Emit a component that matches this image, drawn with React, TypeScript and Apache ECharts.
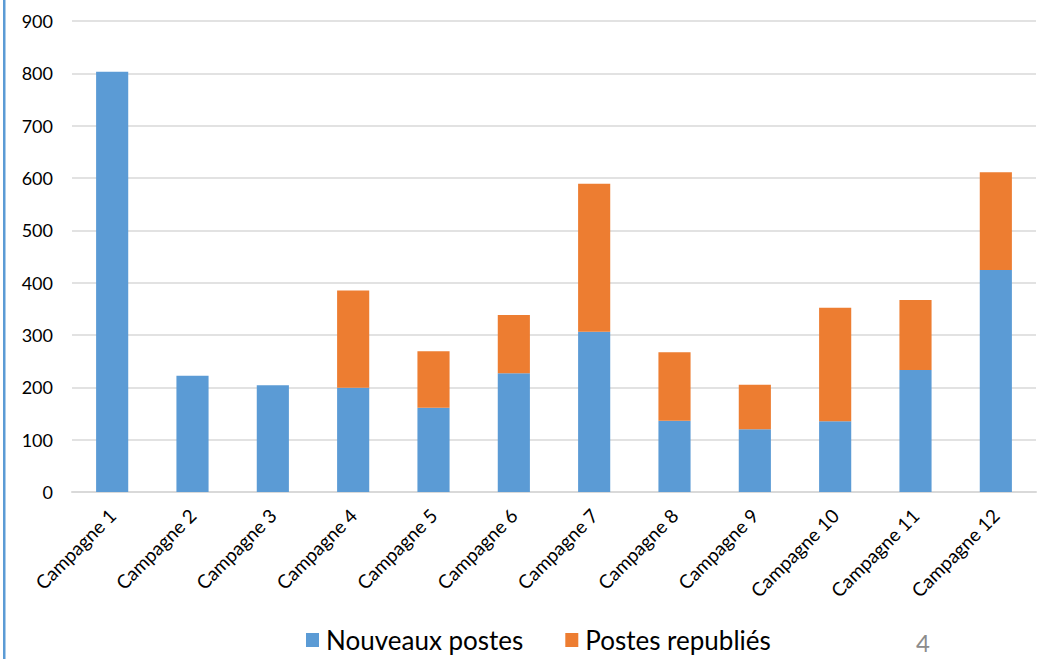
import React, { useEffect, useRef } from "react";
import * as echarts from "echarts";

const categories = [
  "Campagne 1", "Campagne 2", "Campagne 3", "Campagne 4", "Campagne 5", "Campagne 6",
  "Campagne 7", "Campagne 8", "Campagne 9", "Campagne 10", "Campagne 11", "Campagne 12",
];
const nouveauxPostes = [803, 222, 204, 199, 161, 227, 306, 136, 120, 135, 233, 424];
const postesRepublies = [0, 0, 0, 186, 108, 111, 283, 131, 85, 217, 134, 187];
const yTicks = { min: 0, max: 900, interval: 100 };
const seriesNames = ["Nouveaux postes", "Postes republiés"];
const pageNumber = "4";

const FONT = "Lato, 'Open Sans', sans-serif";

export default function App() {
  const ref = useRef<HTMLDivElement>(null);
  useEffect(() => {
    if (!ref.current) return;
    const chart = echarts.init(ref.current, undefined, { renderer: "svg" });
    chart.setOption({
      animation: false,
      backgroundColor: "#ffffff",
      textStyle: { fontFamily: FONT },
      grid: { left: 72, right: 11, top: 21, bottom: 167, containLabel: false },
      legend: {
        left: 306,
        top: 627,
        padding: 0,
        itemWidth: 13,
        itemHeight: 14,
        itemGap: 42,
        icon: "rect",
        textStyle: { fontSize: 26, color: "#000000", fontFamily: FONT, padding: [0, 0, 0, 2], lineHeight: 26 },
        data: seriesNames,
      },
      xAxis: {
        type: "category",
        data: categories,
        axisLine: { show: true, lineStyle: { color: "#d9d9d9", width: 2 } },
        axisTick: { show: false },
        axisLabel: {
          rotate: 45,
          interval: 0,
          margin: 20,
          fontSize: 19,
          color: "#000000",
          fontFamily: FONT,
        },
      },
      yAxis: {
        type: "value",
        min: yTicks.min,
        max: yTicks.max,
        interval: yTicks.interval,
        axisLine: { show: false },
        axisTick: { show: false },
        splitLine: { lineStyle: { color: "#d9d9d9", width: 1.5 } },
        axisLabel: { fontSize: 18, color: "#000000", margin: 19, fontFamily: FONT },
      },
      series: [
        {
          name: seriesNames[0],
          type: "bar",
          stack: "total",
          barWidth: "40%",
          data: nouveauxPostes,
          itemStyle: { color: "#5B9BD5" },
        },
        {
          name: seriesNames[1],
          type: "bar",
          stack: "total",
          barWidth: "40%",
          data: postesRepublies,
          itemStyle: { color: "#ED7D31" },
        },
      ],
      graphic: [
        {
          type: "rect",
          shape: { x: 3, y: 0, width: 2.5, height: 659 },
          style: { fill: "#5B9BD5" },
        },
        {
          type: "text",
          x: 923,
          y: 642,
          style: {
            text: pageNumber,
            fontSize: 24,
            fill: "#8c8c8c",
            fontFamily: FONT,
            align: "center",
            verticalAlign: "middle",
          },
        },
      ],
    });
    return () => chart.dispose();
  }, []);
  return (
    <div
      ref={ref}
      style={{ position: "fixed", left: 0, top: 0, width: 1047, height: 659 }}
    />
  );
}
